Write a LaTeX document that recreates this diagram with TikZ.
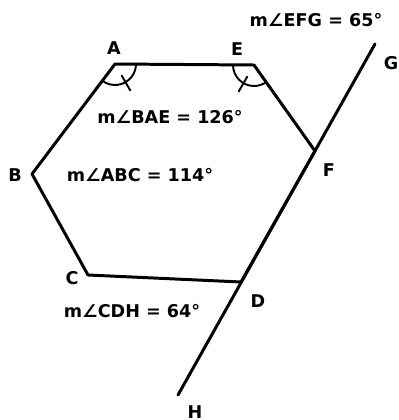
\documentclass[tikz,border=0pt]{standalone}
\usepackage{fontspec}
\setmainfont{DejaVu Sans}
\usetikzlibrary{calc}

\tikzset{
  side/.style={line width=1.7pt, line cap=round, line join=round},
  arcmark/.style={line width=1.1pt},
  vlabel/.style={font=\bfseries\fontsize{10}{12}\selectfont, inner sep=0pt},
  alabel/.style={font=\bfseries\fontsize{10}{12}\selectfont, inner sep=0pt},
}

\begin{document}
\begin{tikzpicture}[x=0.02cm,y=-0.02cm]
  \useasboundingbox (0,0) rectangle (399,420);
  % vertices of the hexagon and the transversal
  \coordinate (A) at (115,64);
  \coordinate (E) at (254,65);
  \coordinate (F) at (315,151);
  \coordinate (D) at (241,282);
  \coordinate (C) at (88,275);
  \coordinate (B) at (32,174);
  \coordinate (G) at (375,44);
  \coordinate (H) at (178,395);

  \draw[side] (A)--(E)--(F)--(D)--(C)--(B)--cycle;
  \draw[side] (H)--(G);

  % congruent angle marks at A and E
  \draw[arcmark] ([shift={(232.9:0.42cm)}]A) arc[start angle=232.9,end angle=360,radius=0.42cm];
  \draw[arcmark] ([shift={(300:0.26cm)}]A) -- ([shift={(300:0.62cm)}]A);
  \draw[arcmark] ([shift={(180:0.42cm)}]E) arc[start angle=180,end angle=305.4,radius=0.42cm];
  \draw[arcmark] ([shift={(240:0.26cm)}]E) -- ([shift={(240:0.62cm)}]E);

  % vertex letters
  \foreach \p/\x/\y in {A/114/48,E/237/49,B/15/175,C/72/278,D/258/301,F/329/170,G/391/63,H/195/412}
    \node[vlabel] (lab\p) at (\x,\y) {\p};

  \node[alabel] (angBAE) at (170,117) {m∠BAE = 126°};
  \node[alabel] (angABC) at (140,175) {m∠ABC = 114°};
  \node[alabel] (angCDH) at (132,311) {m∠CDH = 64°};
  \node[alabel] (angEFG) at (316,20) {m∠EFG = 65°};
\end{tikzpicture}
\end{document}
